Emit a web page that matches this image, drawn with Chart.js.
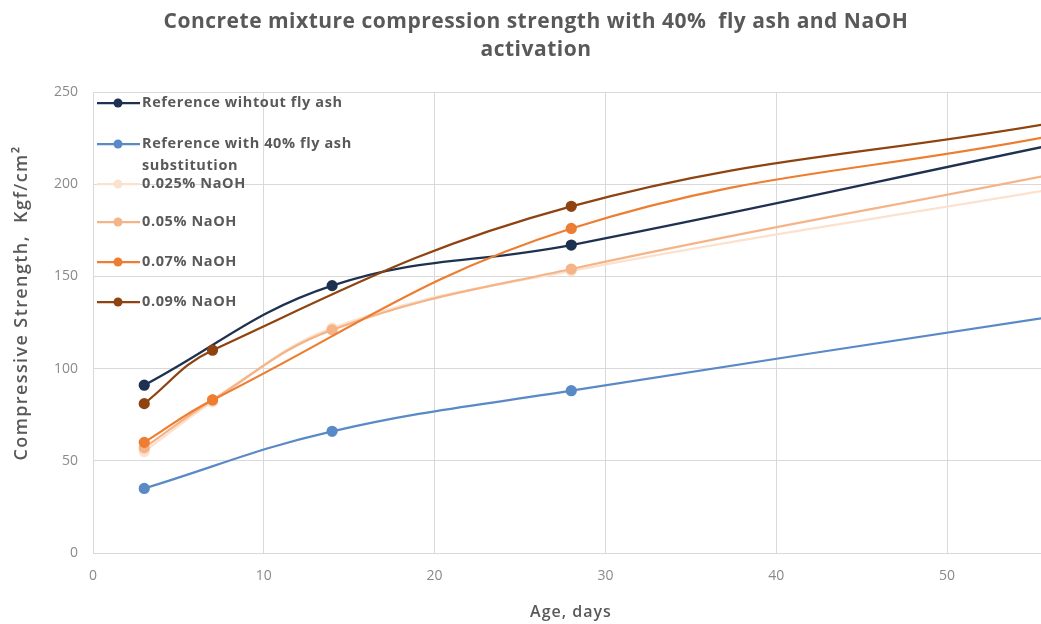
<!DOCTYPE html>
<html>
<head>
<meta charset="utf-8">
<title>Concrete compression strength</title>
<script src="https://cdn.jsdelivr.net/npm/chart.js@4.4.1/dist/chart.umd.min.js"></script>
<style>
    html, body { margin: 0; padding: 0; background: #fff; }
    #wrap { width: 1041px; height: 624px; }
</style>
</head>
<body>
<div id="wrap"><canvas id="strengthChart" width="1041" height="624"></canvas></div>
<script>
// Compression strength (Kgf/cm2) by age of the specimen (days)
const ages = [3, 7, 14, 28, 56];

const refNoFlyAsh = [91, null, 145, 167, 221];
const ref40FlyAsh = [35, null, 66, 88, 128];
const naoh025 = [55, 82, 122, 153, 197];
const naoh05 = [57, 83, 121, 154, 205];
const naoh07 = [60, 83, null, 176, 226];
const naoh09 = [81, 110, null, 188, 233];

const seriesValues = [refNoFlyAsh, ref40FlyAsh, naoh025, naoh05, naoh07, naoh09];
const seriesNames = [
    'Reference wihtout fly ash',
    'Reference with 40% fly ash\nsubstitution',
    '0.025% NaOH',
    '0.05% NaOH',
    '0.07% NaOH',
    '0.09% NaOH'
];
const seriesColors = ['#1f3150', '#5a8ac6', '#fbe2cf', '#f5b487', '#ed7d31', '#8e4310'];

const ageTicks = [0, 10, 20, 30, 40, 50];
const strengthTicks = [0, 50, 100, 150, 200, 250];

const titleLines = ['Concrete mixture compression strength with 40%  fly ash and NaOH', 'activation'];
const yTitle = 'Compressive Strength,  Kgf/cm\u00b2';
const xTitle = 'Age, days';

const TEXT_DARK = '#595959';
const TEXT_LIGHT = '#8a8a8a';
const GRID = '#d9d9d9';
const FONT = '"Open Sans", Lato, sans-serif';

Chart.defaults.font.family = FONT;

// Build {x, y} points, skipping ages that were not tested
function toPoints(values) {
    return ages
        .map((age, i) => ({ x: age, y: values[i] }))
        .filter(p => p.y !== null);
}

const datasets = seriesValues.map((values, i) => ({
    label: seriesNames[i],
    data: toPoints(values),
    borderColor: seriesColors[i],
    backgroundColor: seriesColors[i],
    pointBackgroundColor: seriesColors[i],
    pointBorderColor: seriesColors[i],
    borderWidth: 2.25,
    pointRadius: 4.5,
    tension: 0.4,
    order: seriesValues.length - i
}));

function spacedText(ctx, font, spacing) {
    ctx.font = font + ' ' + FONT;
    ctx.letterSpacing = spacing + 'px';
}

// Title, axis titles and the in-plot legend
const overlayText = {
    id: 'overlayText',
    afterDraw(chart) {
        const ctx = chart.ctx;
        ctx.save();
        ctx.fillStyle = TEXT_DARK;
        ctx.textAlign = 'center';
        ctx.textBaseline = 'middle';

        spacedText(ctx, 'bold 21px', 0.5);
        titleLines.forEach((line, i) => ctx.fillText(line, 536, 22 + i * 28));

        spacedText(ctx, '600 16px', 1);
        ctx.fillText(xTitle, 571, 612);

        ctx.save();
        ctx.translate(22, 303);
        ctx.rotate(-Math.PI / 2);
        spacedText(ctx, '600 18px', 1.4);
        ctx.fillText(yTitle, 0, 0);
        ctx.restore();

        // legend entries
        const rows = [103, 144, 184, 222, 262, 302];
        ctx.textAlign = 'left';
        spacedText(ctx, 'bold 14.5px', 0.6);
        seriesNames.forEach((name, i) => {
            const y = rows[i];
            ctx.strokeStyle = seriesColors[i];
            ctx.fillStyle = seriesColors[i];
            ctx.lineWidth = 2.25;
            ctx.beginPath();
            ctx.moveTo(97, y);
            ctx.lineTo(140, y);
            ctx.stroke();
            ctx.beginPath();
            ctx.arc(118, y, 4.5, 0, Math.PI * 2);
            ctx.fill();

            ctx.fillStyle = TEXT_DARK;
            name.split('\n').forEach((part, k) => ctx.fillText(part, 142, y + k * 22));
        });
        ctx.restore();
    }
};

new Chart(document.getElementById('strengthChart'), {
    type: 'line',
    data: { datasets: datasets },
    options: {
        responsive: false,
        animation: false,
        layout: { autoPadding: false, padding: { top: 92, right: 0, bottom: 0, left: 0 } },
        plugins: {
            legend: { display: false },
            title: { display: false },
            tooltip: { enabled: false }
        },
        scales: {
            x: {
                type: 'linear',
                min: 0,
                max: 55.5,
                afterBuildTicks: scale => { scale.ticks = ageTicks.map(v => ({ value: v })); },
                afterFit: scale => {
                    scale.height = 71;
                    scale.paddingLeft = 0;
                    scale.paddingRight = 0;
                },
                grid: { color: GRID, drawTicks: false },
                border: { color: GRID },
                ticks: { color: TEXT_LIGHT, font: { size: 14 }, padding: 15, maxRotation: 0 }
            },
            y: {
                min: 0,
                max: 250,
                afterBuildTicks: scale => { scale.ticks = strengthTicks.map(v => ({ value: v })); },
                afterFit: scale => { scale.width = 93; },
                grid: { color: GRID, drawTicks: false },
                border: { color: GRID },
                ticks: { color: TEXT_LIGHT, font: { size: 14 }, padding: 15 }
            }
        }
    },
    plugins: [overlayText]
});
</script>
</body>
</html>
